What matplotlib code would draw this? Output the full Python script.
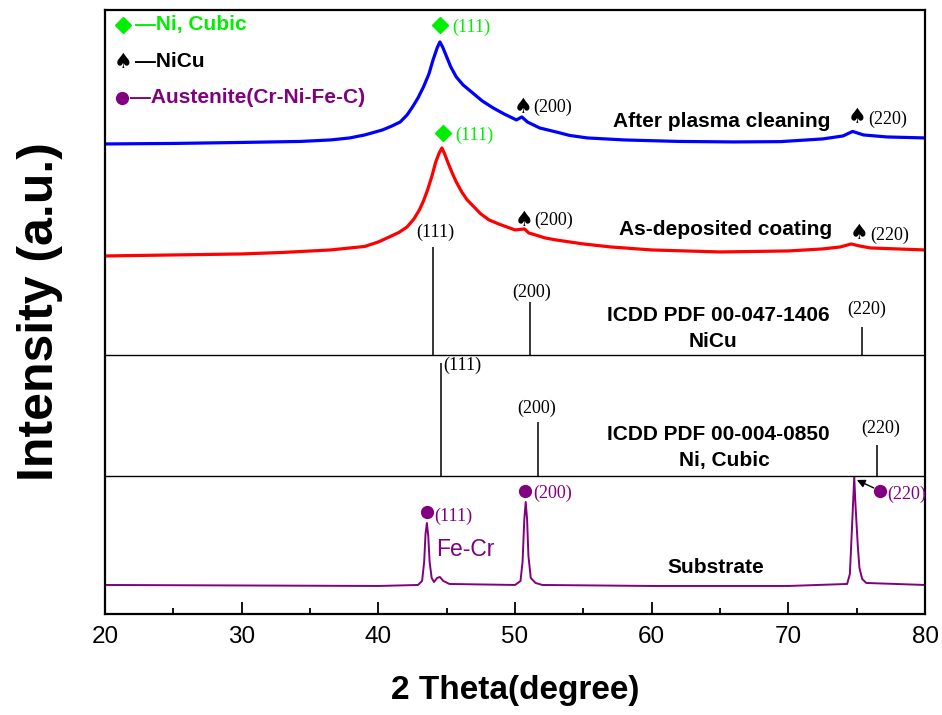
import numpy as np
import matplotlib
matplotlib.use("Agg")
import matplotlib.pyplot as plt
from matplotlib.ticker import MultipleLocator

plt.rcParams['font.family'] = ['Liberation Sans', 'DejaVu Sans']

# ---- data (intensities in a.u.) ----
# after plasma cleaning (blue)
blue_2t = [20, 25, 30, 34.3, 36.5, 37.9, 39.0, 40.3, 41.0, 41.6, 42.1, 42.5, 42.9,
           43.3, 43.7, 44.0, 44.3, 44.5, 44.7, 45.0, 45.3, 45.7, 46.2, 46.9, 47.6,
           48.4, 49.2, 50.1, 50.5, 50.9, 51.8, 53, 54, 55.3, 58, 62, 66, 69.4,
           72.5, 74.0, 74.7, 75.5, 77.2, 80]
blue_int = [20, 20.5, 21.5, 22.5, 24, 26, 29, 34, 38, 42, 49, 57, 66,
            77, 90, 104, 116, 122, 117, 107, 97, 87, 79, 71, 63,
            56, 50, 44, 47, 42, 36, 32, 28.5, 26, 24, 22.5, 22, 22.3,
            25, 28, 32.5, 29, 27, 26]

# as-deposited coating (red)
red_2t = [20, 25, 30, 33, 36.5, 39, 40.0, 40.8, 41.5, 42.1, 42.6, 43.0, 43.3, 43.6,
          43.9, 44.2, 44.45, 44.65, 44.85, 45.1, 45.4, 45.7, 46.1, 46.5, 47.0, 47.5,
          48.1, 48.8, 49.4, 50.0, 50.7, 51.0, 51.5, 52.2, 53, 54, 55, 57, 60, 65,
          70, 72.5, 73.8, 74.6, 75.2, 76, 78, 80]
red_int = [18, 19, 20, 21.5, 24, 27.5, 32, 37, 41.5, 47, 55, 64, 73, 84,
           97, 112, 121, 126, 120, 111, 101, 92, 82, 74, 67, 60,
           54, 50, 47, 44, 45, 41, 39, 36, 34, 32, 30, 27, 24, 22,
           23, 25, 27, 30, 28, 26, 25, 24]

# ICDD PDF 00-047-1406 NiCu
nicu_2t = [44.0, 51.1, 75.4]
nicu_int = [108, 53, 28]

# ICDD PDF 00-004-0850 Ni, cubic
ni_2t = [44.6, 51.7, 76.45]
ni_int = [113, 54, 31]

# substrate (purple)
sub_2t = [20, 30, 40, 42.9, 43.2, 43.35, 43.45, 43.55, 43.65, 43.75, 43.9, 44.07,
          44.3, 44.5, 44.75, 45.2, 50.0, 50.4, 50.55, 50.68, 50.78, 50.88, 50.98,
          51.15, 51.5, 52, 60, 70, 74.3, 74.5, 74.65, 74.82, 74.9, 74.98, 75.08,
          75.2, 75.4, 75.7, 80]
sub_int = [29, 28.5, 28, 29, 33, 52, 80, 91, 78, 52, 36, 32,
           36, 37, 33, 30, 29, 33, 52, 95, 112, 95, 58,
           36, 31, 29, 28, 28, 30, 40, 85, 137, 112, 92, 68,
           46, 35, 31, 29]

# vertical offsets of the stacked patterns
off_blue, off_red, off_nicu, off_ni, off_sub = 450, 340, 259, 138, 0

GREEN = '#00ee00'
PURPLE = '#800080'

fig = plt.figure(figsize=(9.42, 7.15), dpi=100)
ax = fig.add_axes([0.1115, 0.1413, 0.8705, 0.8448])

ax.plot(blue_2t, np.array(blue_int) + off_blue, color='#0000ff', lw=2.3)
ax.plot(red_2t, np.array(red_int) + off_red, color='#ff0000', lw=2.3)
ax.plot(sub_2t, np.array(sub_int) + off_sub, color=PURPLE, lw=1.4)

ax.vlines(nicu_2t, off_nicu, np.array(nicu_int) + off_nicu, color='black', lw=1.1)
ax.vlines(ni_2t, off_ni, np.array(ni_int) + off_ni, color='black', lw=1.1)
ax.axhline(off_nicu, color='black', lw=1.0)
ax.axhline(off_ni, color='black', lw=1.0)

ax.set_xlim(20, 80)
ax.set_ylim(0, 604)
ax.set_yticks([])
ax.xaxis.set_major_locator(MultipleLocator(10))
ax.xaxis.set_minor_locator(MultipleLocator(5))
ax.tick_params(axis='x', which='major', direction='in', length=8.5, width=1.3,
               labelsize=17.5, pad=9)
ax.tick_params(axis='x', which='minor', direction='in', length=4.5, width=1.3)
for s in ax.spines.values():
    s.set_linewidth(1.6)

ax.set_xlabel('2 Theta(degree)', fontsize=24, fontweight='bold', labelpad=19)
ax.set_ylabel('Intensity (a.u.)', fontsize=36, fontweight='bold', labelpad=30)

bold = dict(fontsize=15, fontweight='bold', va='center')
serif = dict(fontsize=13, family='Liberation Serif', va='center')
spade = dict(fontsize=15, family='DejaVu Sans', va='center', ha='center')

# legend at top left
ax.plot(21.32, 589, 'D', color=GREEN, ms=8)
ax.text(22.2, 589, '—Ni, Cubic', color=GREEN, **bold)
ax.text(21.32, 552, '♠', color='black', **spade)
ax.text(22.2, 552, '—NiCu', color='black', **bold)
ax.plot(21.24, 516, 'o', color=PURPLE, ms=8.5)
ax.text(21.8, 516, '—Austenite(Cr-Ni-Fe-C)', color=PURPLE, **bold)

# after plasma cleaning
ax.plot(44.51, 589, 'D', color=GREEN, ms=8)
ax.text(45.38, 587, '(111)', color=GREEN, **serif)
ax.text(50.58, 507, '♠', **spade)
ax.text(51.31, 507, '(200)', **serif)
ax.text(65.1, 492, 'After plasma cleaning', ha='center', **bold)
ax.text(75.01, 497, '♠', **spade)
ax.text(75.82, 495, '(220)', **serif)

# as-deposited coating
ax.plot(44.73, 481, 'D', color=GREEN, ms=8)
ax.text(45.6, 479, '(111)', color=GREEN, **serif)
ax.text(50.65, 394, '♠', **spade)
ax.text(51.38, 394, '(200)', **serif)
ax.text(65.43, 384, 'As-deposited coating', ha='center', **bold)
ax.text(75.16, 381, '♠', **spade)
ax.text(75.96, 379, '(220)', **serif)

# NiCu reference
ax.text(44.14, 382, '(111)', ha='center', **serif)
ax.text(51.2, 322, '(200)', ha='center', **serif)
ax.text(75.75, 305, '(220)', ha='center', **serif)
ax.text(64.84, 298, 'ICDD PDF 00-047-1406', ha='center', **bold)
ax.text(64.45, 272, 'NiCu', ha='center', **bold)

# Ni reference
ax.text(44.76, 249, '(111)', **serif)
ax.text(51.57, 206, '(200)', ha='center', **serif)
ax.text(76.75, 186, '(220)', ha='center', **serif)
ax.text(64.9, 179, 'ICDD PDF 00-004-0850', ha='center', **bold)
ax.text(65.3, 153, 'Ni, Cubic', ha='center', **bold)

# substrate
ax.plot(43.55, 102, 'o', color=PURPLE, ms=8.5)
ax.text(44.07, 98, '(111)', color=PURPLE, **serif)
ax.text(44.19, 64, 'Fe-Cr', color=PURPLE, fontsize=16.5, va='center')
ax.plot(50.72, 123, 'o', color=PURPLE, ms=8.5)
ax.text(51.31, 121, '(200)', color=PURPLE, **serif)
ax.plot(76.69, 123, 'o', color=PURPLE, ms=8.5)
ax.text(77.25, 120, '(220)', color=PURPLE, **serif)
ax.annotate('', xy=(75.01, 134), xytext=(76.25, 126),
            arrowprops=dict(arrowstyle='-|>', color='black', lw=1.0,
                            mutation_scale=12, shrinkA=0, shrinkB=0))
ax.text(64.7, 46, 'Substrate', ha='center', **bold)

fig.savefig('out.png', dpi=100)
